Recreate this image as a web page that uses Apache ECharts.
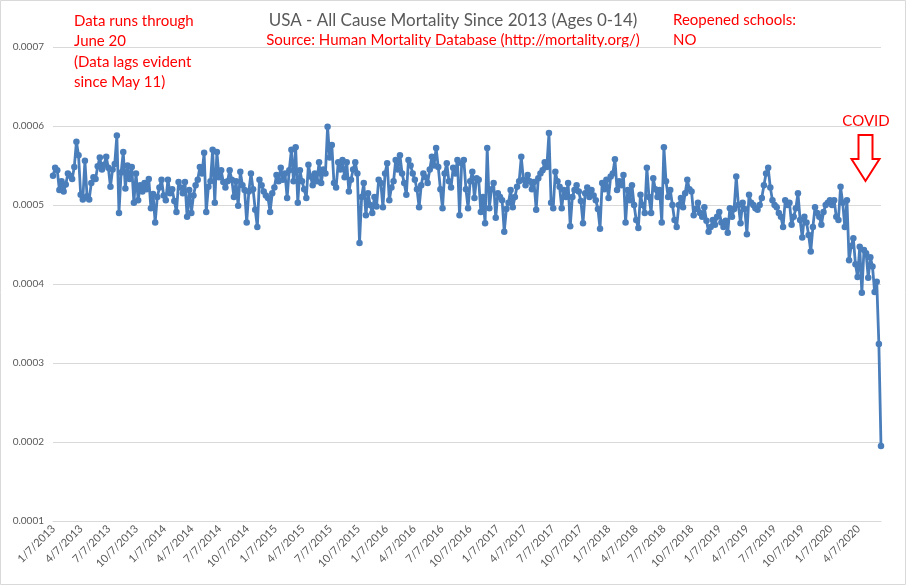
<!DOCTYPE html>
<html><head><meta charset="utf-8">
<script src="https://cdn.jsdelivr.net/npm/echarts@6/dist/echarts.min.js"></script>
<style>html,body{margin:0;padding:0;background:#fff}#c{width:906px;height:585px}</style>
</head><body><div id="c"></div>
<script>
// Weekly all-cause mortality rate, ages 0-14, weeks ending Saturday
const firstWeekEnding = '2013-01-05';
const mortality = [
0.000537,0.000547,0.000544,0.000519,0.000530,0.000517,0.000526,0.000540,0.000537,0.000533,
0.000548,0.000580,0.000563,0.000513,0.000507,0.000556,0.000511,0.000507,0.000528,0.000535,
0.000533,0.000549,0.000560,0.000545,0.000551,0.000561,0.000547,0.000523,0.000545,0.000552,
0.000588,0.000490,0.000541,0.000567,0.000521,0.000550,0.000533,0.000548,0.000503,0.000540,
0.000506,0.000525,0.000517,0.000528,0.000520,0.000533,0.000496,0.000514,0.000478,0.000510,
0.000522,0.000532,0.000512,0.000506,0.000532,0.000515,0.000520,0.000505,0.000491,0.000529,
0.000522,0.000515,0.000529,0.000485,0.000519,0.000490,0.000512,0.000525,0.000532,0.000548,
0.000540,0.000566,0.000491,0.000523,0.000530,0.000570,0.000503,0.000567,0.000535,0.000544,
0.000529,0.000522,0.000530,0.000544,0.000532,0.000510,0.000530,0.000499,0.000542,0.000525,
0.000519,0.000478,0.000517,0.000540,0.000520,0.000494,0.000472,0.000532,0.000525,0.000517,
0.000512,0.000509,0.000491,0.000515,0.000522,0.000538,0.000530,0.000547,0.000532,0.000540,
0.000509,0.000544,0.000570,0.000530,0.000573,0.000503,0.000544,0.000530,0.000520,0.000509,
0.000551,0.000536,0.000525,0.000540,0.000530,0.000554,0.000528,0.000545,0.000540,0.000599,
0.000560,0.000576,0.000528,0.000522,0.000554,0.000545,0.000557,0.000535,0.000554,0.000517,
0.000532,0.000545,0.000554,0.000540,0.000452,0.000510,0.000528,0.000487,0.000515,0.000500,
0.000490,0.000510,0.000498,0.000532,0.000528,0.000497,0.000540,0.000553,0.000506,0.000522,
0.000530,0.000557,0.000545,0.000563,0.000540,0.000528,0.000513,0.000557,0.000550,0.000540,
0.000532,0.000520,0.000497,0.000525,0.000540,0.000535,0.000528,0.000545,0.000561,0.000550,
0.000572,0.000548,0.000520,0.000496,0.000540,0.000553,0.000530,0.000522,0.000547,0.000540,
0.000557,0.000487,0.000553,0.000557,0.000520,0.000496,0.000530,0.000542,0.000509,0.000534,
0.000532,0.000491,0.000510,0.000477,0.000572,0.000496,0.000520,0.000528,0.000484,0.000515,
0.000510,0.000506,0.000466,0.000495,0.000503,0.000519,0.000497,0.000510,0.000523,0.000530,
0.000561,0.000532,0.000525,0.000538,0.000530,0.000520,0.000529,0.000494,0.000534,0.000540,
0.000544,0.000554,0.000548,0.000591,0.000503,0.000496,0.000542,0.000530,0.000523,0.000496,
0.000519,0.000510,0.000528,0.000473,0.000510,0.000519,0.000525,0.000517,0.000505,0.000477,
0.000515,0.000522,0.000510,0.000519,0.000512,0.000506,0.000495,0.000470,0.000528,0.000520,
0.000532,0.000509,0.000536,0.000540,0.000558,0.000519,0.000530,0.000525,0.000538,0.000478,
0.000519,0.000506,0.000525,0.000500,0.000481,0.000471,0.000513,0.000500,0.000490,0.000547,
0.000510,0.000490,0.000534,0.000520,0.000510,0.000519,0.000478,0.000573,0.000530,0.000510,
0.000519,0.000500,0.000481,0.000472,0.000500,0.000509,0.000497,0.000515,0.000532,0.000520,
0.000517,0.000487,0.000495,0.000503,0.000490,0.000485,0.000497,0.000480,0.000466,0.000472,
0.000481,0.000475,0.000485,0.000491,0.000478,0.000472,0.000480,0.000465,0.000496,0.000485,
0.000495,0.000536,0.000500,0.000477,0.000503,0.000495,0.000463,0.000513,0.000503,0.000500,
0.000496,0.000494,0.000500,0.000509,0.000525,0.000540,0.000547,0.000522,0.000506,0.000500,
0.000497,0.000490,0.000485,0.000472,0.000506,0.000500,0.000503,0.000475,0.000485,0.000496,
0.000515,0.000481,0.000459,0.000485,0.000478,0.000462,0.000441,0.000472,0.000497,0.000490,
0.000485,0.000475,0.000491,0.000500,0.000503,0.000506,0.000500,0.000506,0.000485,0.000481,
0.000523,0.000503,0.000472,0.000506,0.000430,0.000448,0.000458,0.000425,0.000409,0.000447,
0.000389,0.000443,0.000439,0.000408,0.000434,0.000422,0.000390,0.000403,0.000324,0.000195
];
const tickLabels = [
'1/7/2013','4/7/2013','7/7/2013','10/7/2013',
'1/7/2014','4/7/2014','7/7/2014','10/7/2014',
'1/7/2015','4/7/2015','7/7/2015','10/7/2015',
'1/7/2016','4/7/2016','7/7/2016','10/7/2016',
'1/7/2017','4/7/2017','7/7/2017','10/7/2017',
'1/7/2018','4/7/2018','7/7/2018','10/7/2018',
'1/7/2019','4/7/2019','7/7/2019','10/7/2019',
'1/7/2020','4/7/2020'
];
const yTickValues = [0.0001,0.0002,0.0003,0.0004,0.0005,0.0006,0.0007];
const titleText = 'USA - All Cause Mortality Since 2013 (Ages 0-14)';
const sourceText = 'Source: Human Mortality Database (http://mortality.org/)';
const noteLeft = ['Data runs through','June 20','(Data lags evident','since May 11)'];
const noteRight = ['Reopened schools:','NO'];
const covidText = 'COVID';

const DAY = 86400000;
const start = Date.parse(firstWeekEnding + 'T00:00:00Z');
const weekDates = mortality.map((_, i) => start + i * 7 * DAY);
const seriesData = mortality.map((v, i) => [weekDates[i], v]);
function parseMDY(s){ const p = s.split('/').map(Number); return Date.UTC(p[2], p[0]-1, p[1]); }
const tickTimes = tickLabels.map(parseMDY);
const labelByTime = {}; tickTimes.forEach((t, i) => { labelByTime[t] = tickLabels[i]; });

const RED = '#ff0000';
const FONT = 'Lato, "Liberation Sans", sans-serif';
function txt(text, x, y, size, color, align){
  return {type:'text', x:x, y:y, silent:true, style:{text:text, fontSize:size, fontFamily:FONT, fill:color, align:align||'left', verticalAlign:'middle'}};
}
const graphics = [
  {type:'rect', shape:{x:0.5,y:0.5,width:905,height:584}, style:{fill:'none', stroke:'#d9d9d9', lineWidth:1}, silent:true},
  txt(titleText, 453, 21, 17, '#595959', 'center'),
  txt(sourceText, 453, 40, 15, RED, 'center'),
  txt(noteLeft[0], 74, 21, 15, RED), txt(noteLeft[1], 74, 41, 15, RED),
  txt(noteLeft[2], 74, 62, 15, RED), txt(noteLeft[3], 74, 82, 15, RED),
  txt(noteRight[0], 673, 20, 15, RED), txt(noteRight[1], 673, 40, 15, RED),
  txt(covidText, 866, 121, 15, RED, 'center'),
  {type:'polygon', silent:true, shape:{points:[[858.5,135],[872.5,135],[872.5,159],[879.5,159],[865.5,181],[851.5,159],[858.5,159]]},
   style:{fill:'#ffffff', stroke:RED, lineWidth:2}}
];

const chart = echarts.init(document.getElementById('c'), null, {renderer:'canvas'});
chart.setOption({
  animation:false,
  backgroundColor:'#ffffff',
  grid:{left:53, right:25, top:47, bottom:64, containLabel:false, outerBoundsMode:'none'},
  xAxis:{
    type:'value', min:weekDates[0], max:weekDates[weekDates.length-1],
    axisLine:{show:true, lineStyle:{color:'#d9d9d9'}},
    axisTick:{show:false},
    splitLine:{show:false},
    axisLabel:{customValues:tickTimes, rotate:45, color:'#595959', fontSize:11, fontFamily:FONT, margin:6,
      formatter:function(v){ return labelByTime[v] || ''; }}
  },
  yAxis:{
    type:'value', min:yTickValues[0], max:yTickValues[yTickValues.length-1], interval:0.0001,
    axisLine:{show:false}, axisTick:{show:false},
    splitLine:{lineStyle:{color:'#d9d9d9', width:1}},
    axisLabel:{color:'#595959', fontSize:10, fontFamily:FONT, margin:9, formatter:function(v){ return v.toFixed(4); }}
  },
  series:[{
    type:'line', data:seriesData, symbol:'circle', symbolSize:6.5, showSymbol:true,
    lineStyle:{color:'#4a7ebb', width:2.8}, itemStyle:{color:'#4a7ebb'}, emphasis:{disabled:true}
  }],
  graphic:graphics
});
</script></body></html>
